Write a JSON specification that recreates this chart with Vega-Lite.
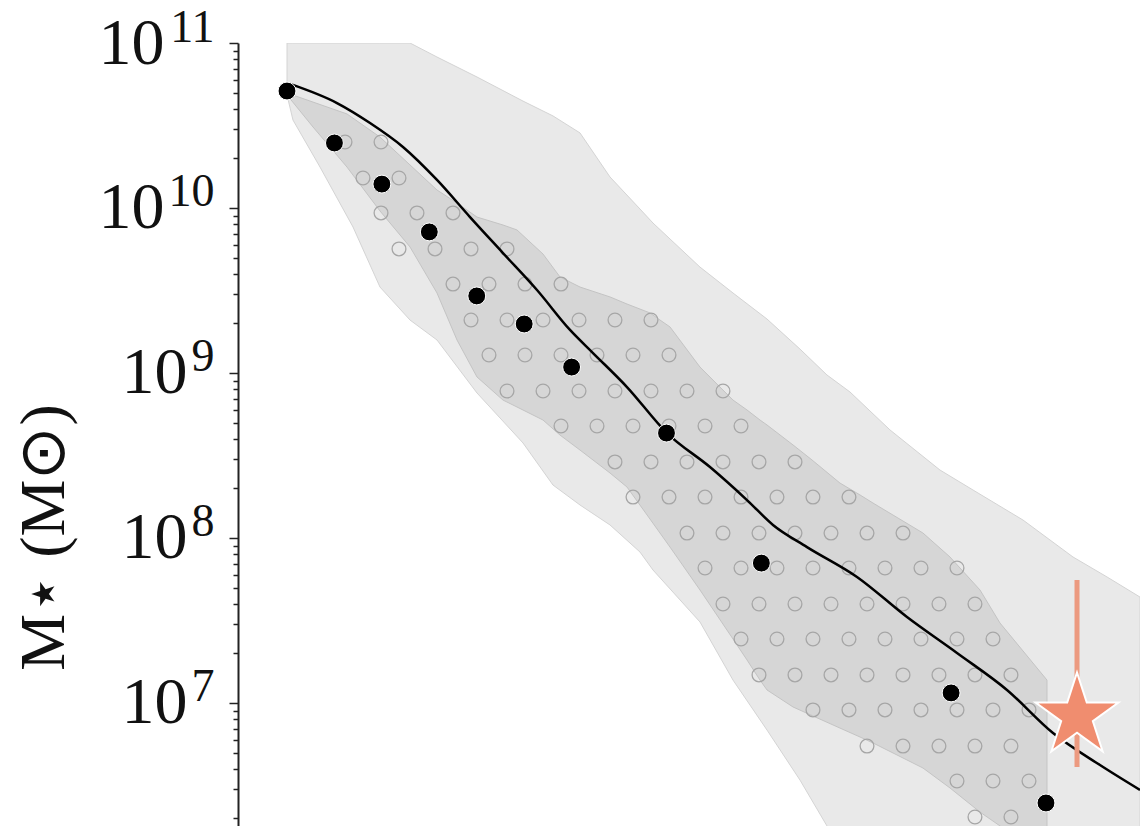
{
  "$schema": "https://vega.github.io/schema/vega-lite/v6.json",
  "width": 902,
  "height": 783,
  "autosize": {"type": "none"},
  "padding": {"left": 238, "top": 43, "right": 0, "bottom": 0},
  "background": "white",
  "config": {"view": {"stroke": null}, "axis": {"grid": false}},
  "datasets": {
    "outer": [
      {"t": 0, "m": 10.685, "m2": 11.0},
      {"t": 0.126, "m": 10.533, "m2": 11.0},
      {"t": 0.696, "m": 10.248, "m2": 11.0},
      {"t": 1.391, "m": 9.885, "m2": 11.0},
      {"t": 1.96, "m": 9.521, "m2": 11.0},
      {"t": 2.593, "m": 9.321, "m2": 11.0},
      {"t": 3.162, "m": 9.2, "m2": 10.915},
      {"t": 4.005, "m": 8.879, "m2": 10.794},
      {"t": 4.975, "m": 8.576, "m2": 10.648},
      {"t": 5.607, "m": 8.321, "m2": 10.558},
      {"t": 6.177, "m": 8.2, "m2": 10.455},
      {"t": 6.809, "m": 8.079, "m2": 10.188},
      {"t": 7.441, "m": 7.915, "m2": 9.994},
      {"t": 7.715, "m": 7.806, "m2": 9.909},
      {"t": 8.706, "m": 7.491, "m2": 9.642},
      {"t": 9.402, "m": 7.139, "m2": 9.485},
      {"t": 10.119, "m": 6.836, "m2": 9.327},
      {"t": 10.814, "m": 6.533, "m2": 9.145},
      {"t": 11.383, "m": 6.255, "m2": 8.988},
      {"t": 11.868, "m": 6.109, "m2": 8.885},
      {"t": 12.711, "m": 5.806, "m2": 8.655},
      {"t": 13.765, "m": 5.442, "m2": 8.412},
      {"t": 14.461, "m": 5.2, "m2": 8.291},
      {"t": 15.515, "m": 4.9, "m2": 8.109},
      {"t": 16.569, "m": 4.6, "m2": 7.885},
      {"t": 17.286, "m": 4.5, "m2": 7.764},
      {"t": 17.982, "m": 4.4, "m2": 7.642}
    ],
    "inner": [
      {"t": 0, "m": 10.685, "m2": 10.697},
      {"t": 0.548, "m": 10.491, "m2": 10.642},
      {"t": 1.265, "m": 10.248, "m2": 10.57},
      {"t": 1.96, "m": 9.982, "m2": 10.43},
      {"t": 2.593, "m": 9.764, "m2": 10.261},
      {"t": 3.162, "m": 9.485, "m2": 10.109},
      {"t": 3.584, "m": 9.2, "m2": 10.03},
      {"t": 4.005, "m": 8.976, "m2": 9.945},
      {"t": 4.553, "m": 8.836, "m2": 9.897},
      {"t": 4.848, "m": 8.794, "m2": 9.867},
      {"t": 5.397, "m": 8.715, "m2": 9.721},
      {"t": 5.755, "m": 8.624, "m2": 9.582},
      {"t": 6.177, "m": 8.533, "m2": 9.521},
      {"t": 6.809, "m": 8.394, "m2": 9.461},
      {"t": 7.167, "m": 8.309, "m2": 9.418},
      {"t": 7.652, "m": 8.115, "m2": 9.364},
      {"t": 7.863, "m": 8.03, "m2": 9.321},
      {"t": 8.074, "m": 7.945, "m2": 9.279},
      {"t": 8.706, "m": 7.685, "m2": 9.036},
      {"t": 9.402, "m": 7.388, "m2": 8.836},
      {"t": 9.697, "m": 7.261, "m2": 8.776},
      {"t": 9.971, "m": 7.139, "m2": 8.715},
      {"t": 10.119, "m": 7.079, "m2": 8.685},
      {"t": 10.667, "m": 6.976, "m2": 8.564},
      {"t": 11.067, "m": 6.924, "m2": 8.473},
      {"t": 11.657, "m": 6.848, "m2": 8.333},
      {"t": 12.079, "m": 6.794, "m2": 8.261},
      {"t": 12.353, "m": 6.758, "m2": 8.212},
      {"t": 13.407, "m": 6.606, "m2": 8.03},
      {"t": 13.976, "m": 6.485, "m2": 7.885},
      {"t": 14.609, "m": 6.339, "m2": 7.685},
      {"t": 15.03, "m": 6.255, "m2": 7.485},
      {"t": 16.021, "m": 6.048, "m2": 7.139}
    ],
    "hatch": [
      {"t": 1.223, "m": 10.4}, {"t": 1.982, "m": 10.4},
      {"t": 1.602, "m": 10.182}, {"t": 2.361, "m": 10.182},
      {"t": 1.982, "m": 9.97}, {"t": 2.74, "m": 9.97}, {"t": 3.499, "m": 9.97},
      {"t": 2.361, "m": 9.752}, {"t": 3.12, "m": 9.752}, {"t": 3.879, "m": 9.752}, {"t": 4.638, "m": 9.752},
      {"t": 3.499, "m": 9.539}, {"t": 4.258, "m": 9.539}, {"t": 5.017, "m": 9.539}, {"t": 5.776, "m": 9.539},
      {"t": 3.879, "m": 9.321}, {"t": 4.638, "m": 9.321}, {"t": 5.397, "m": 9.321}, {"t": 6.156, "m": 9.321}, {"t": 6.914, "m": 9.321}, {"t": 7.673, "m": 9.321},
      {"t": 4.258, "m": 9.109}, {"t": 5.017, "m": 9.109}, {"t": 5.776, "m": 9.109}, {"t": 6.535, "m": 9.109}, {"t": 7.294, "m": 9.109}, {"t": 8.053, "m": 9.109},
      {"t": 4.638, "m": 8.891}, {"t": 5.397, "m": 8.891}, {"t": 6.156, "m": 8.891}, {"t": 6.914, "m": 8.891}, {"t": 7.673, "m": 8.891}, {"t": 8.432, "m": 8.891}, {"t": 9.191, "m": 8.891},
      {"t": 5.776, "m": 8.679}, {"t": 6.535, "m": 8.679}, {"t": 7.294, "m": 8.679}, {"t": 8.053, "m": 8.679}, {"t": 8.812, "m": 8.679}, {"t": 9.571, "m": 8.679},
      {"t": 6.914, "m": 8.461}, {"t": 7.673, "m": 8.461}, {"t": 8.432, "m": 8.461}, {"t": 9.191, "m": 8.461}, {"t": 9.95, "m": 8.461}, {"t": 10.709, "m": 8.461},
      {"t": 7.294, "m": 8.248}, {"t": 8.053, "m": 8.248}, {"t": 8.812, "m": 8.248}, {"t": 9.571, "m": 8.248}, {"t": 10.329, "m": 8.248}, {"t": 11.088, "m": 8.248}, {"t": 11.847, "m": 8.248},
      {"t": 8.432, "m": 8.03}, {"t": 9.191, "m": 8.03}, {"t": 9.95, "m": 8.03}, {"t": 10.709, "m": 8.03}, {"t": 11.468, "m": 8.03}, {"t": 12.227, "m": 8.03}, {"t": 12.986, "m": 8.03},
      {"t": 8.812, "m": 7.818}, {"t": 9.571, "m": 7.818}, {"t": 10.329, "m": 7.818}, {"t": 11.088, "m": 7.818}, {"t": 11.847, "m": 7.818}, {"t": 12.606, "m": 7.818}, {"t": 13.365, "m": 7.818}, {"t": 14.124, "m": 7.818},
      {"t": 9.191, "m": 7.6}, {"t": 9.95, "m": 7.6}, {"t": 10.709, "m": 7.6}, {"t": 11.468, "m": 7.6}, {"t": 12.227, "m": 7.6}, {"t": 12.986, "m": 7.6}, {"t": 13.744, "m": 7.6}, {"t": 14.503, "m": 7.6},
      {"t": 9.571, "m": 7.388}, {"t": 10.329, "m": 7.388}, {"t": 11.088, "m": 7.388}, {"t": 11.847, "m": 7.388}, {"t": 12.606, "m": 7.388}, {"t": 13.365, "m": 7.388}, {"t": 14.124, "m": 7.388}, {"t": 14.883, "m": 7.388},
      {"t": 9.95, "m": 7.17}, {"t": 10.709, "m": 7.17}, {"t": 11.468, "m": 7.17}, {"t": 12.227, "m": 7.17}, {"t": 12.986, "m": 7.17}, {"t": 13.744, "m": 7.17}, {"t": 14.503, "m": 7.17}, {"t": 15.262, "m": 7.17},
      {"t": 11.088, "m": 6.958}, {"t": 11.847, "m": 6.958}, {"t": 12.606, "m": 6.958}, {"t": 13.365, "m": 6.958}, {"t": 14.124, "m": 6.958}, {"t": 14.883, "m": 6.958}, {"t": 15.642, "m": 6.958},
      {"t": 12.227, "m": 6.739}, {"t": 12.986, "m": 6.739}, {"t": 13.744, "m": 6.739}, {"t": 14.503, "m": 6.739}, {"t": 15.262, "m": 6.739},
      {"t": 14.124, "m": 6.527}, {"t": 14.883, "m": 6.527}, {"t": 15.642, "m": 6.527},
      {"t": 14.503, "m": 6.309}, {"t": 15.262, "m": 6.309}
    ],
    "median": [
      {"t": 0.063, "m": 10.752},
      {"t": 1.054, "m": 10.636},
      {"t": 1.75, "m": 10.515},
      {"t": 2.445, "m": 10.37},
      {"t": 3.162, "m": 10.17},
      {"t": 3.858, "m": 9.945},
      {"t": 4.553, "m": 9.727},
      {"t": 5.27, "m": 9.503},
      {"t": 5.966, "m": 9.261},
      {"t": 6.451, "m": 9.121},
      {"t": 7.167, "m": 8.915},
      {"t": 8.01, "m": 8.636},
      {"t": 8.917, "m": 8.43},
      {"t": 9.697, "m": 8.23},
      {"t": 10.245, "m": 8.079},
      {"t": 10.962, "m": 7.945},
      {"t": 12.016, "m": 7.764},
      {"t": 13.07, "m": 7.521},
      {"t": 14.124, "m": 7.303},
      {"t": 15.178, "m": 7.079},
      {"t": 16.148, "m": 6.818},
      {"t": 17.138, "m": 6.624},
      {"t": 17.982, "m": 6.473}
    ],
    "points": [
      {"t": 0, "m": 10.709},
      {"t": 1, "m": 10.394},
      {"t": 2, "m": 10.145},
      {"t": 3, "m": 9.855},
      {"t": 4, "m": 9.467},
      {"t": 5, "m": 9.297},
      {"t": 6, "m": 9.036},
      {"t": 8, "m": 8.636},
      {"t": 10, "m": 7.848},
      {"t": 14, "m": 7.061},
      {"t": 16, "m": 6.394}
    ],
    "obs": [
      {"t": 16.654, "m": 6.921, "lo": 6.612, "hi": 7.745}
    ]
  },
  "encoding": {
    "x": {
      "field": "t",
      "type": "quantitative",
      "scale": {"domain": [-1.033, 17.982], "nice": false, "zero": false},
      "axis": null
    }
  },
  "resolve": {"axis": {"y": "independent"}},
  "layer": [
    {
      "data": {"name": "outer"},
      "mark": {"type": "area", "color": "#e9e9e9", "stroke": "#d4d4d4", "strokeWidth": 1, "clip": true},
      "encoding": {
        "y": {
          "field": "m",
          "type": "quantitative",
          "scale": {"domain": [6.2545, 11], "nice": false, "zero": false},
          "axis": {
            "orient": "left",
            "title": "M⋆ (M⊙)",
            "titleFont": "Liberation Serif",
            "titleFontSize": 64,
            "titleFontWeight": "normal",
            "titleColor": "#111111",
            "titleAngle": -90,
            "titleAlign": "center",
            "titleBaseline": "alphabetic",
            "titleX": -175,
            "titleY": 494,
            "labels": false,
            "values": [6.30103, 6.47712, 6.60206, 6.69897, 6.77815, 6.8451, 6.90309, 6.95424, 7,
                       7.30103, 7.47712, 7.60206, 7.69897, 7.77815, 7.8451, 7.90309, 7.95424, 8,
                       8.30103, 8.47712, 8.60206, 8.69897, 8.77815, 8.8451, 8.90309, 8.95424, 9,
                       9.30103, 9.47712, 9.60206, 9.69897, 9.77815, 9.8451, 9.90309, 9.95424, 10,
                       10.30103, 10.47712, 10.60206, 10.69897, 10.77815, 10.8451, 10.90309, 10.95424, 11],
            "tickSize": {"condition": {"test": "datum.value % 1 == 0", "value": 9}, "value": 5},
            "tickColor": "#222222",
            "tickWidth": 1.5,
            "domainColor": "#222222",
            "domainWidth": 2
          }
        },
        "y2": {"field": "m2"}
      }
    },
    {
      "data": {"name": "inner"},
      "mark": {"type": "area", "color": "#d6d6d6", "stroke": "#c4c4c4", "strokeWidth": 1, "clip": true},
      "encoding": {
        "y": {
          "field": "m",
          "type": "quantitative",
          "scale": {"domain": [6.2545, 11], "nice": false, "zero": false},
          "axis": {
            "orient": "left",
            "title": null,
            "values": [7, 8, 9, 10, 11],
            "labelExpr": "'10'",
            "domain": false,
            "ticks": false,
            "labelFont": "Liberation Serif",
            "labelFontSize": 66,
            "labelColor": "#111111",
            "labelPadding": {"condition": {"test": "datum.value >= 10", "value": 74}, "value": 51},
            "labelFlush": false,
            "labelOverlap": false
          }
        },
        "y2": {"field": "m2"}
      }
    },
    {
      "data": {"name": "hatch"},
      "mark": {"type": "point", "shape": "circle", "filled": false, "size": 190, "stroke": "#a6a6a6", "strokeWidth": 1.3, "opacity": 1, "clip": true},
      "encoding": {
        "y": {
          "field": "m",
          "type": "quantitative",
          "scale": {"domain": [6.2545, 11], "nice": false, "zero": false},
          "axis": {
            "orient": "left",
            "title": null,
            "values": [7, 8, 9, 10, 11],
            "format": "d",
            "domain": false,
            "ticks": false,
            "labelFont": "Liberation Serif",
            "labelFontSize": 46,
            "labelColor": "#111111",
            "labelPadding": 24,
            "labelOffset": -16,
            "labelFlush": false,
            "labelOverlap": false
          }
        }
      }
    },
    {
      "data": {"name": "median"},
      "mark": {"type": "line", "color": "#000000", "strokeWidth": 2.5, "interpolate": "monotone", "clip": true},
      "encoding": {
        "y": {"field": "m", "type": "quantitative", "scale": {"domain": [6.2545, 11], "nice": false, "zero": false}, "axis": null}
      }
    },
    {
      "data": {"name": "points"},
      "mark": {"type": "circle", "size": 320, "color": "#000000", "stroke": "#ffffff", "strokeWidth": 1, "opacity": 1, "clip": true},
      "encoding": {
        "y": {"field": "m", "type": "quantitative", "scale": {"domain": [6.2545, 11], "nice": false, "zero": false}, "axis": null}
      }
    },
    {
      "data": {"name": "obs"},
      "mark": {"type": "rule", "color": "#ec9a80", "strokeWidth": 5, "clip": true},
      "encoding": {
        "y": {"field": "lo", "type": "quantitative", "scale": {"domain": [6.2545, 11], "nice": false, "zero": false}, "axis": null},
        "y2": {"field": "hi"}
      }
    },
    {
      "data": {"name": "obs"},
      "mark": {
        "type": "point",
        "shape": "M0,-1L0.2245,-0.309L0.9511,-0.309L0.3633,0.118L0.5878,0.809L0,0.382L-0.5878,0.809L-0.3633,0.118L-0.9511,-0.309L-0.2245,-0.309Z",
        "filled": true,
        "size": 7600,
        "color": "#f08d6f",
        "stroke": "#ffffff",
        "strokeWidth": 2,
        "opacity": 1,
        "clip": true
      },
      "encoding": {
        "y": {"field": "m", "type": "quantitative", "scale": {"domain": [6.2545, 11], "nice": false, "zero": false}, "axis": null}
      }
    }
  ]
}
